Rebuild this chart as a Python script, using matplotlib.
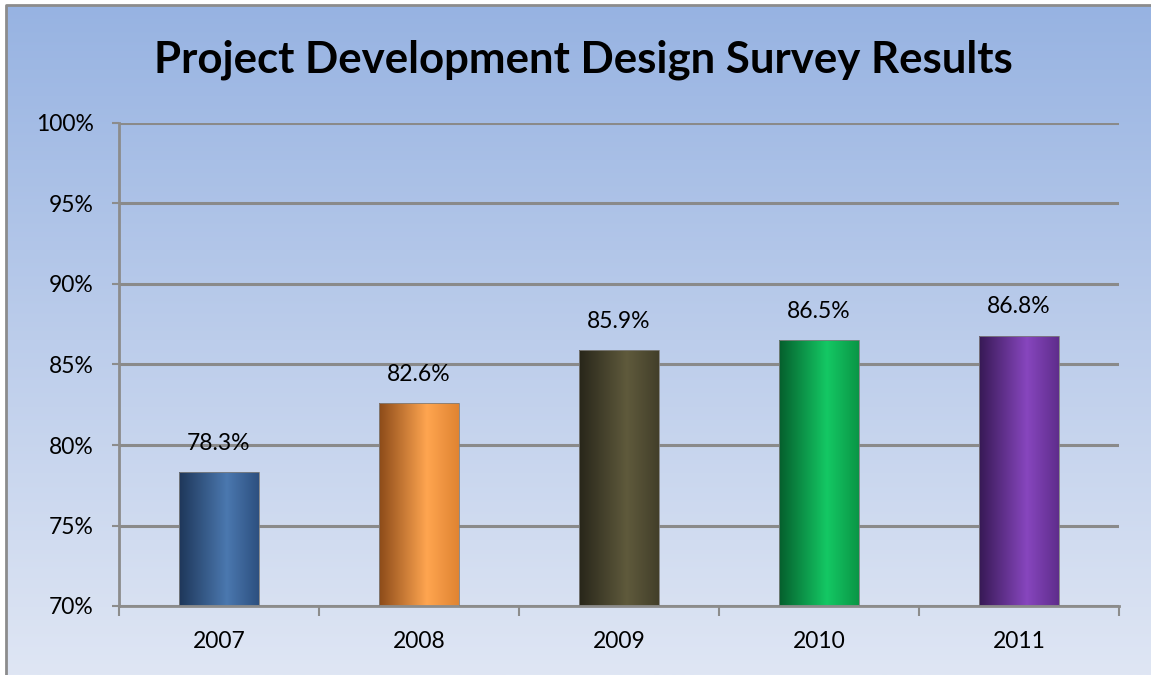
import numpy as np
import matplotlib.pyplot as plt
from matplotlib.colors import LinearSegmentedColormap
from matplotlib.lines import Line2D

years = ['2007', '2008', '2009', '2010', '2011']
scores = [78.3, 82.6, 85.9, 86.5, 86.8]
# dark left edge, bright highlight, right edge shade
bar_shades = [
    ['#1e375a', '#4b78af', '#2d5080'],
    ['#8c4b19', '#ffa550', '#e08432'],
    ['#28261a', '#5f5a3c', '#433f2a'],
    ['#055f2d', '#14c864', '#0a9646'],
    ['#371955', '#8746be', '#5f2d8c'],
]
y_ticks = [70, 75, 80, 85, 90, 95, 100]

plt.rcParams['font.family'] = ['Lato', 'DejaVu Sans']

fig = plt.figure(figsize=(11.51, 6.75), dpi=100)
W, H = 1151, 675

# background gradient panel, frame visible only on top and left
bg = fig.add_axes([6 / W, 0, 1 - 6 / W, 1 - 5 / H], zorder=-5)
bg.set_axis_off()
bg_cmap = LinearSegmentedColormap.from_list('bg', ['#97b3e2', '#bccdeb', '#dfe6f4'])
grad = np.linspace(0, 1, 256).reshape(-1, 1)
bg.imshow(grad, cmap=bg_cmap, extent=[0, 1, 0, 1], aspect='auto', interpolation='bilinear')
bg.set_xlim(0, 1)
bg.set_ylim(0, 1)
fig.add_artist(Line2D([6 / W, 6 / W, 1], [0, 1 - 5 / H, 1 - 5 / H],
                      transform=fig.transFigure, color='#8c8c8c', lw=2))

ax = fig.add_axes([119 / W, (H - 606) / H, 1000 / W, (606 - 123) / H])
ax.set_facecolor('none')

x = np.arange(len(years))
width = 0.4
bars = ax.bar(x, scores, width=width, bottom=0, color='none', edgecolor='#7f7f7f',
              linewidth=0.6, zorder=3)

profile = np.linspace(0, 1, 200)
for b, shades in zip(bars, bar_shades):
    cm = LinearSegmentedColormap.from_list('c', [(0, shades[0]), (0.6, shades[1]), (1, shades[2])])
    x0 = b.get_x()
    im = ax.imshow(profile.reshape(1, -1), cmap=cm, aspect='auto',
                   extent=[x0, x0 + b.get_width(), 70, b.get_height()], zorder=2)
    im.set_clip_path(b)

for xi, v in zip(x, scores):
    ax.annotate(f'{v:.1f}%', (xi, v), xytext=(0, 13), textcoords='offset points',
                ha='center', va='bottom', fontsize=16.5, color='black')

ax.set_xlim(-0.5, len(years) - 0.5)
ax.set_ylim(70, 100)
ax.set_yticks(y_ticks)
ax.set_yticklabels([f'{t}%' for t in y_ticks], fontsize=16.5)
ax.set_xticks(x)
ax.set_xticklabels(years, fontsize=16.5)
ax.set_xticks(np.arange(-0.5, len(years)), minor=True)
ax.tick_params(axis='x', which='major', length=0, pad=18)
ax.tick_params(axis='x', which='minor', length=7, width=1.5, color='#8c8c8c')
ax.tick_params(axis='y', length=5, width=1.5, color='#8c8c8c', pad=13)
ax.yaxis.grid(True, color='#8a8a8a', linewidth=2.2, zorder=1)
ax.set_axisbelow(True)
for s in ['top', 'right']:
    ax.spines[s].set_visible(False)
for s in ['left', 'bottom']:
    ax.spines[s].set_color('#8c8c8c')
    ax.spines[s].set_linewidth(2)

fig.text(583 / W, 1 - 72 / H, 'Project Development Design Survey Results',
         ha='center', va='baseline', fontsize=31.5, fontweight='bold')

fig.savefig('out.png', dpi=100)
